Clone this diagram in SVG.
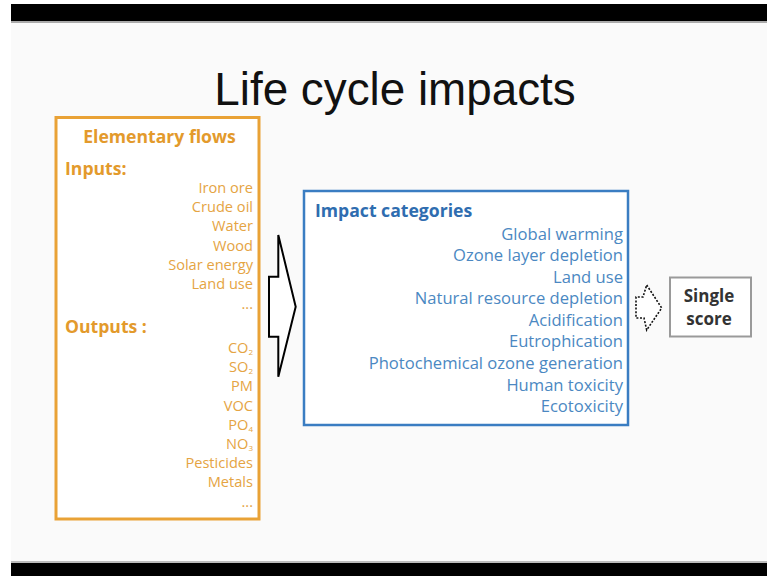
<svg xmlns="http://www.w3.org/2000/svg" width="767" height="576" viewBox="0 0 767 576">
<style>
.or{font-family:"Open Sans",Lato,"Liberation Sans",sans-serif;fill:#E5A443;font-size:14.6px;text-anchor:end}
.sub{font-size:8px}
.orh{font-family:"Open Sans",Lato,"Liberation Sans",sans-serif;fill:#E39A2C;font-weight:bold;font-size:17.6px}
.bl{font-family:"Open Sans",Lato,"Liberation Sans",sans-serif;fill:#4B88C2;font-size:16.6px;text-anchor:end}
.blh{font-family:"Open Sans",Lato,"Liberation Sans",sans-serif;fill:#2F6DB0;font-weight:bold;font-size:17.6px}
.sc{font-family:"Open Sans",Lato,"Liberation Sans",sans-serif;fill:#333;font-weight:bold;font-size:17px;text-anchor:middle}
</style>
<rect x="0" y="0" width="767" height="576" fill="#ffffff"/>
<rect x="11" y="21" width="756" height="542" fill="#fafafa"/>
<rect x="11" y="4" width="756" height="17" fill="#000"/>
<rect x="11" y="21" width="756" height="2" fill="#aaa"/>
<rect x="11" y="561" width="756" height="2" fill="#bbb"/>
<rect x="11" y="563" width="756" height="13" fill="#000"/>
<text x="395" y="105" font-family="'Liberation Sans',Arial,sans-serif" font-size="45.8" text-anchor="middle" fill="#111">Life cycle impacts</text>
<g id="elementary-flows">
<rect x="56" y="117.5" width="203" height="401.5" fill="#fff" stroke="#E9A236" stroke-width="3"/>
<text class="orh" x="159.5" y="143" text-anchor="middle">Elementary flows</text>
<text class="orh" x="65" y="175">Inputs:</text>
<text class="or" x="253" y="193">Iron ore</text>
<text class="or" x="253" y="212">Crude oil</text>
<text class="or" x="253" y="231">Water</text>
<text class="or" x="253" y="251">Wood</text>
<text class="or" x="253" y="270">Solar energy</text>
<text class="or" x="253" y="289">Land use</text>
<text class="or" x="253" y="309" font-size="10">...</text>
<text class="orh" x="65" y="333">Outputs :</text>
<text class="or" x="253" y="353">CO<tspan class="sub" dy="1.5">2</tspan></text>
<text class="or" x="253" y="372">SO<tspan class="sub" dy="1.5">2</tspan></text>
<text class="or" x="253" y="391">PM</text>
<text class="or" x="253" y="411">VOC</text>
<text class="or" x="253" y="430">PO<tspan class="sub" dy="1.5">4</tspan></text>
<text class="or" x="253" y="449">NO<tspan class="sub" dy="1.5">3</tspan></text>
<text class="or" x="253" y="468">Pesticides</text>
<text class="or" x="253" y="487">Metals</text>
<text class="or" x="253" y="507" font-size="10">...</text>
</g>
<g id="impact-categories">
<rect x="304" y="191" width="324" height="234" fill="#fff" stroke="#3A7DC2" stroke-width="2.5"/>
<text class="blh" x="315" y="217">Impact categories</text>
<text class="bl" x="623" y="239.5">Global warming</text>
<text class="bl" x="623" y="261">Ozone layer depletion</text>
<text class="bl" x="623" y="282.5">Land use</text>
<text class="bl" x="623" y="304">Natural resource depletion</text>
<text class="bl" x="623" y="325.5">Acidification</text>
<text class="bl" x="623" y="347">Eutrophication</text>
<text class="bl" x="623" y="369">Photochemical ozone generation</text>
<text class="bl" x="623" y="390.5">Human toxicity</text>
<text class="bl" x="623" y="412">Ecotoxicity</text>
</g>
<g id="single-score">
<rect x="670" y="277.5" width="81" height="59" fill="#fff" stroke="#9a9a9a" stroke-width="2"/>
<text class="sc" x="709" y="302">Single</text>
<text class="sc" x="709" y="325">score</text>
</g>
<g id="connectors">
<polygon points="278.3,235 295.7,306.7 278.3,376.7 278.3,336.7 269,336.7 269,276.7 278.3,276.7" fill="#fff" stroke="#000" stroke-width="2" stroke-linejoin="miter"/>
<polygon points="646.7,285 661.7,308 646.7,330 644,318 636,318 636,297 643,297" fill="#fff" stroke="#111" stroke-width="1.6" stroke-dasharray="2,1.6"/>
</g>
</svg>
